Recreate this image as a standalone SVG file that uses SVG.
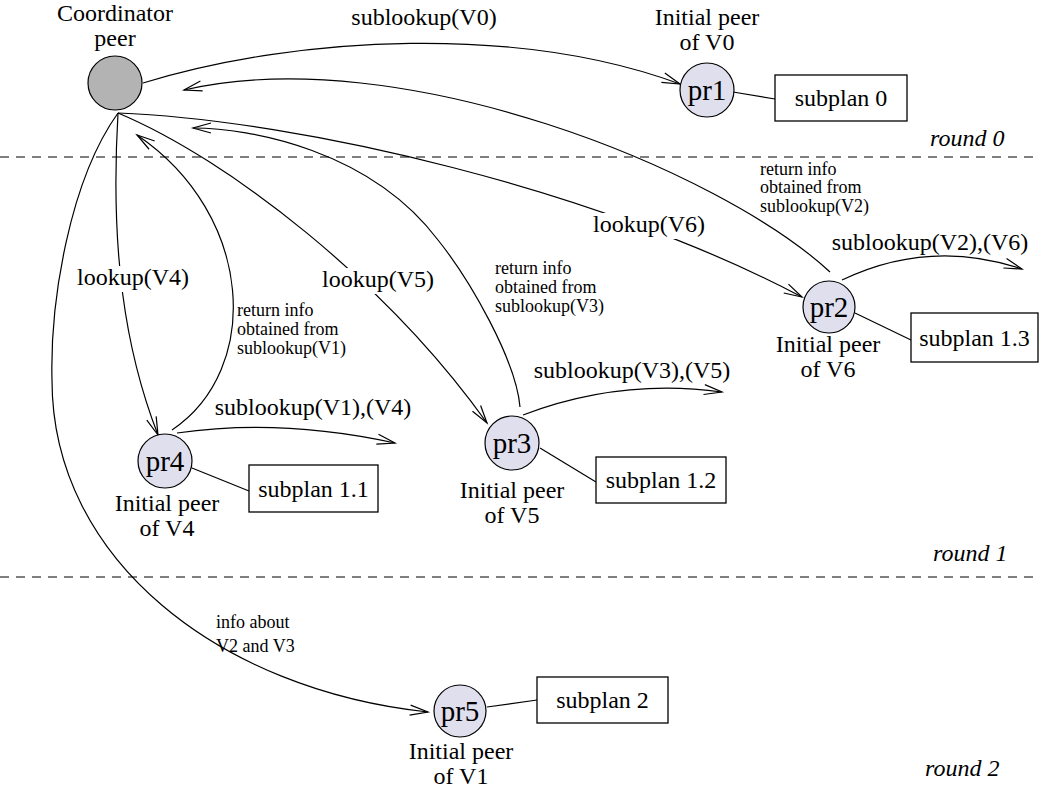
<svg xmlns="http://www.w3.org/2000/svg" width="1039" height="790" viewBox="0 0 1039 790">
<defs>
<style>
text{font-family:"Liberation Serif","Times New Roman",serif;fill:#000}
.lbl{font-size:24px}
.sm{font-size:18px}
.pr{font-size:29px}
.rnd{font-size:24px;font-style:italic}
.peer{fill:#dfdfee;stroke:#000;stroke-width:1.2}
.coord{fill:#b3b3b3;stroke:#000;stroke-width:1.2}
.box{fill:#fff;stroke:#000;stroke-width:1.3}
.c{fill:none;stroke:#000;stroke-width:1.2}
.a{marker-end:url(#arr)}
.dash{stroke:#000;stroke-width:1.2;stroke-dasharray:9 7}
.bg{fill:#fff}
</style>
<marker id="arr" markerWidth="20" markerHeight="12" refX="18" refY="6" orient="auto" markerUnits="userSpaceOnUse" overflow="visible">
<path d="M0,1 L18,6 L0,11" fill="none" stroke="#000" stroke-width="1.2"/>
</marker>
</defs>
<rect width="1039" height="790" fill="#fff"/>

<g id="rounds">
<line class="dash" x1="0" y1="157" x2="1039" y2="157"/>
<line class="dash" x1="0" y1="577" x2="1039" y2="577"/>
<text class="rnd" x="930" y="146">round 0</text>
<text class="rnd" x="933" y="561">round 1</text>
<text class="rnd" x="925" y="776">round 2</text>
</g>

<g id="connectors">
<path class="c a" d="M143,83 C300,35 520,25 680,84"/>
<path class="c a" d="M830,272 C720,170 400,40 184,90"/>
<path class="c a" d="M118,113 C300,120 600,190 802,297"/>
<path class="c a" d="M842,280 Q930,238 1022,269"/>
<path class="c" d="M855,313 L911,340"/>
<path class="c a" d="M118,113 C110,250 125,350 158,435"/>
<path class="c a" d="M172,430 C262,370 255,215 137,135"/>
<path class="c a" d="M177,433 Q280,418 395,443"/>
<path class="c" d="M192,468 L249,491"/>
<path class="c a" d="M118,113 C230,160 387,283 487,423"/>
<path class="c a" d="M520,407 C516,360 470,280 438,240 C370,150 250,128 193,128"/>
<path class="c a" d="M523,415 Q620,378 722,392"/>
<path class="c" d="M540,448 L596,482"/>
<path class="c a" d="M118,113 C70,180 50,300 52,380 C52,560 220,690 428,712"/>
<path class="c" d="M487,707 L537,700"/>
<path class="c" d="M733,92 L775,99"/>
</g>

<g id="labels">
<text class="lbl" x="424" y="25" text-anchor="middle">sublookup(V0)</text>
<text class="sm" x="760" y="175">return info</text>
<text class="sm" x="760" y="193">obtained from</text>
<text class="sm" x="760" y="212">sublookup(V2)</text>
<rect class="bg" x="591" y="213" width="116" height="26"/>
<text class="lbl" x="593" y="232">lookup(V6)</text>
<text class="lbl" x="930" y="250" text-anchor="middle">sublookup(V2),(V6)</text>
<rect class="bg" x="75" y="266" width="115" height="26"/>
<text class="lbl" x="77" y="285">lookup(V4)</text>
<text class="sm" x="237" y="316">return info</text>
<text class="sm" x="237" y="335">obtained from</text>
<text class="sm" x="237" y="354">sublookup(V1)</text>
<text class="lbl" x="313" y="415" text-anchor="middle">sublookup(V1),(V4)</text>
<rect class="bg" x="320" y="268" width="115" height="26"/>
<text class="lbl" x="322" y="287">lookup(V5)</text>
<text class="sm" x="495" y="274">return info</text>
<text class="sm" x="495" y="293">obtained from</text>
<text class="sm" x="495" y="312">sublookup(V3)</text>
<text class="lbl" x="632" y="378" text-anchor="middle">sublookup(V3),(V5)</text>
<text class="sm" x="216" y="628">info about</text>
<text class="sm" x="216" y="652">V2 and V3</text>
</g>

<g id="coordinator">
<text class="lbl" x="115" y="21" text-anchor="middle">Coordinator</text>
<text class="lbl" x="115" y="46" text-anchor="middle">peer</text>
<circle class="coord" cx="115" cy="83" r="27"/>
</g>

<g id="pr1">
<text class="lbl" x="707" y="25" text-anchor="middle">Initial peer</text>
<text class="lbl" x="707" y="50" text-anchor="middle">of V0</text>
<circle class="peer" cx="707" cy="90" r="27"/>
<text class="pr" x="707" y="100" text-anchor="middle">pr1</text>
</g>
<g id="subplan0">
<rect class="box" x="775" y="75" width="132" height="46"/>
<text class="lbl" x="841" y="106" text-anchor="middle">subplan 0</text>
</g>

<g id="pr2">
<circle class="peer" cx="829" cy="307" r="26"/>
<text class="pr" x="829" y="317" text-anchor="middle">pr2</text>
<text class="lbl" x="828" y="352" text-anchor="middle">Initial peer</text>
<text class="lbl" x="828" y="377" text-anchor="middle">of V6</text>
</g>
<g id="subplan13">
<rect class="box" x="911" y="313" width="127" height="49"/>
<text class="lbl" x="974.5" y="346" text-anchor="middle">subplan 1.3</text>
</g>

<g id="pr4">
<circle class="peer" cx="165" cy="461" r="27"/>
<text class="pr" x="165" y="471" text-anchor="middle">pr4</text>
<text class="lbl" x="167" y="511" text-anchor="middle">Initial peer</text>
<text class="lbl" x="167" y="536" text-anchor="middle">of V4</text>
</g>
<g id="subplan11">
<rect class="box" x="249" y="465" width="129" height="47"/>
<text class="lbl" x="313.5" y="497" text-anchor="middle">subplan 1.1</text>
</g>

<g id="pr3">
<circle class="peer" cx="512" cy="443" r="27"/>
<text class="pr" x="512" y="453" text-anchor="middle">pr3</text>
<text class="lbl" x="512" y="498" text-anchor="middle">Initial peer</text>
<text class="lbl" x="512" y="523" text-anchor="middle">of V5</text>
</g>
<g id="subplan12">
<rect class="box" x="596" y="457" width="130" height="46"/>
<text class="lbl" x="661" y="488" text-anchor="middle">subplan 1.2</text>
</g>

<g id="pr5">
<circle class="peer" cx="460" cy="711" r="26"/>
<text class="pr" x="460" y="721" text-anchor="middle">pr5</text>
<text class="lbl" x="461" y="759" text-anchor="middle">Initial peer</text>
<text class="lbl" x="461" y="784" text-anchor="middle">of V1</text>
</g>
<g id="subplan2">
<rect class="box" x="537" y="677" width="131" height="46"/>
<text class="lbl" x="602.5" y="708" text-anchor="middle">subplan 2</text>
</g>
</svg>
